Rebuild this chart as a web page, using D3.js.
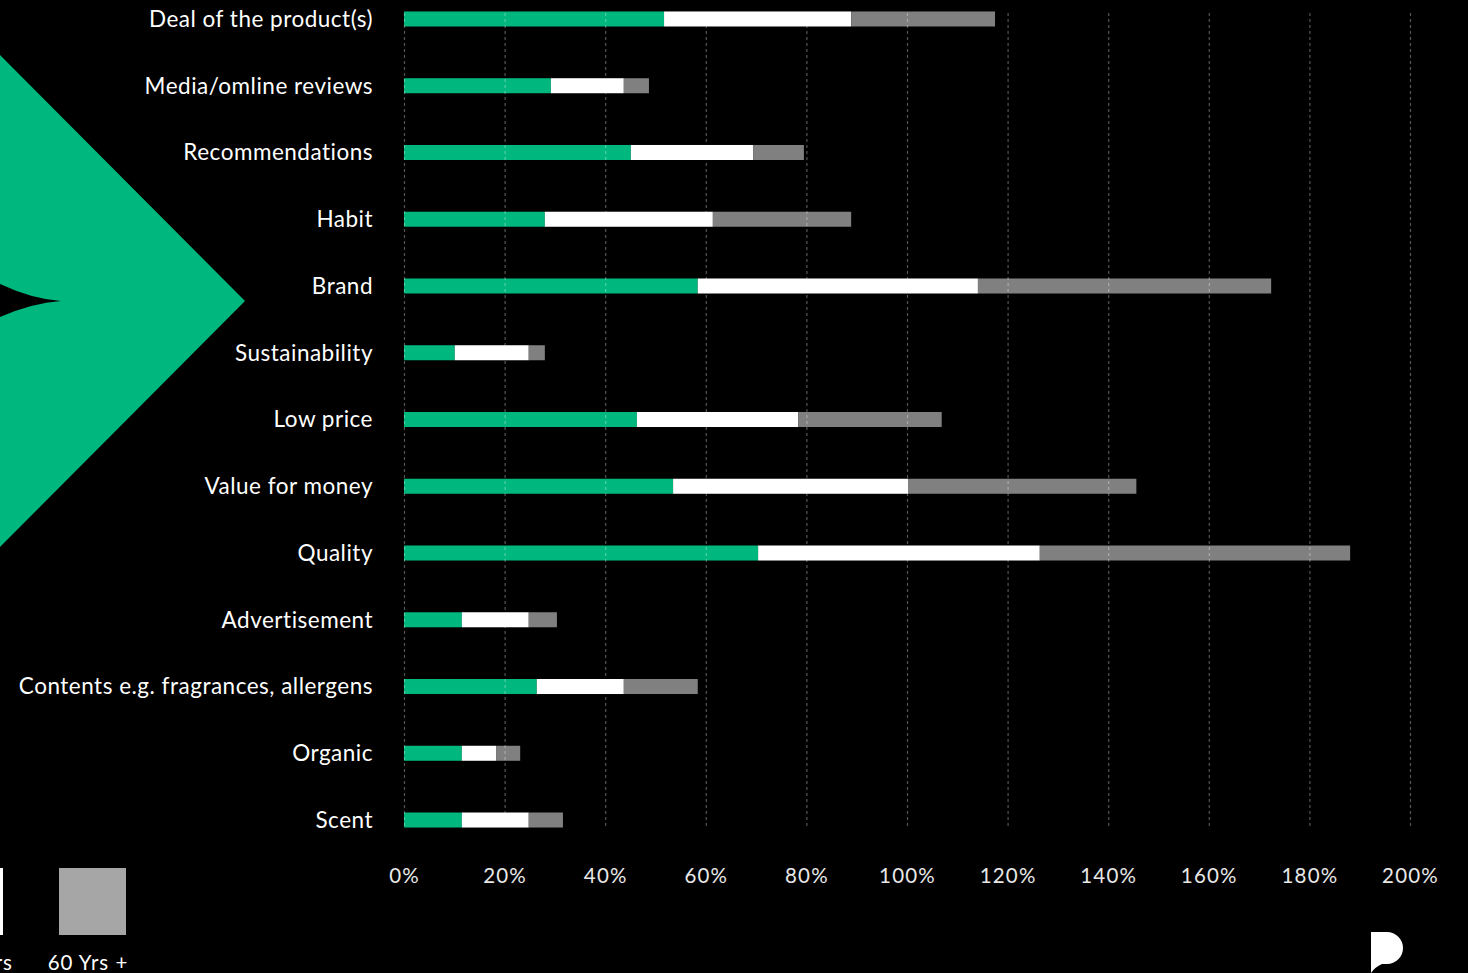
<!DOCTYPE html>
<html>
<head>
<meta charset="utf-8">
<script src="https://cdn.jsdelivr.net/npm/d3@7"></script>
<style>
  html, body { margin: 0; padding: 0; background: #000; overflow: hidden; }
  svg { display: block; }
  text { font-family: Lato, "Noto Sans", sans-serif; }
</style>
</head>
<body>
<svg id="chart" width="1468" height="973"></svg>
<script>
// Purchase drivers, share of respondents (%) per age group, stacked
const categories = [
  "Deal of the product(s)",
  "Media/omline reviews",
  "Recommendations",
  "Habit",
  "Brand",
  "Sustainability",
  "Low price",
  "Value for money",
  "Quality",
  "Advertisement",
  "Contents e.g. fragrances, allergens",
  "Organic",
  "Scent"
];
const seriesNames = ["18-29 Yrs", "30-59 Yrs", "60 Yrs +"];
const young  = [51.7, 29.2, 45.1, 28.0, 58.4, 10.1, 46.3, 53.5, 70.4, 11.5, 26.4, 11.5, 11.5];
const middle = [37.2, 14.5, 24.3, 33.4, 55.7, 14.7, 32.1, 46.7, 56.0, 13.3, 17.3,  6.8, 13.3];
const senior = [28.6,  5.0, 10.1, 27.5, 58.3,  3.2, 28.5, 45.4, 61.7,  5.6, 14.7,  4.8,  6.8];
const tickValues = [0, 20, 40, 60, 80, 100, 120, 140, 160, 180, 200];
const tickLabels = ["0%", "20%", "40%", "60%", "80%", "100%", "120%", "140%", "160%", "180%", "200%"];

const barColors = ["#00b77e", "#ffffff", "#808080"];
const legendColors = ["#00b77e", "#ffffff", "#a6a6a6"];

const svg = d3.select("#chart");
const W = 1468, H = 973;

svg.append("rect").attr("width", W).attr("height", H).attr("fill", "#000");

// Decorative chevron with notch on the left
svg.append("path")
  .attr("d", "M0,55 L245,301 L0,547 L0,317 Q32,303 61,301 Q32,299 0,284 Z")
  .attr("fill", "#00b77e");

// Scales
const x = d3.scaleLinear().domain([0, 200]).range([404, 1410]);
const y = d3.scaleBand().domain(categories)
  .range([-14.4, 853.4])
  .paddingInner(0.775)
  .paddingOuter(0.3875);

// Stack data
const rows = categories.map((c, i) => ({
  cat: c, [seriesNames[0]]: young[i], [seriesNames[1]]: middle[i], [seriesNames[2]]: senior[i]
}));
const stacked = d3.stack().keys(seriesNames)(rows);

const barsG = svg.append("g");
barsG.selectAll("g.series")
  .data(stacked)
  .join("g")
  .attr("class", "series")
  .attr("fill", (d, i) => barColors[i])
  .selectAll("rect")
  .data(d => d)
  .join("rect")
  .attr("x", d => x(d[0]))
  .attr("width", d => x(d[1]) - x(d[0]))
  .attr("y", d => y(d.data.cat))
  .attr("height", y.bandwidth());

// Dashed vertical gridlines over the bars
const gridTop = 12, gridBottom = 826;
const grid = svg.append("g")
  .attr("transform", `translate(0,${gridBottom})`)
  .call(d3.axisBottom(x).tickValues(tickValues).tickSize(-(gridBottom - gridTop)).tickFormat(""));
grid.select(".domain").remove();
grid.selectAll(".tick line")
  .attr("stroke", "#fff")
  .attr("stroke-opacity", 0.33)
  .attr("stroke-width", 1.2)
  .attr("stroke-dasharray", "3,3");

// Category labels
svg.append("g").selectAll("text")
  .data(categories)
  .join("text")
  .attr("x", 373)
  .attr("y", d => y(d) + y.bandwidth() / 2)
  .attr("dy", "0.35em")
  .attr("text-anchor", "end")
  .attr("fill", "#fff")
  .attr("font-size", 22.5)
  .attr("letter-spacing", 0.5)
  .text(d => d);

// X axis labels
const xAxis = svg.append("g")
  .attr("transform", "translate(0,865)")
  .call(d3.axisBottom(x).tickValues(tickValues).tickSize(0)
    .tickFormat((d, i) => tickLabels[i]));
xAxis.select(".domain").remove();
xAxis.selectAll("text")
  .attr("fill", "#e8e8e8")
  .attr("font-size", 20.5)
  .attr("letter-spacing", 1.2)
  .attr("font-family", "Lato, 'Noto Sans', sans-serif");

// Legend (bottom left)
const legendItems = [
  { name: seriesNames[1], color: legendColors[1], sx: -64 },
  { name: seriesNames[2], color: legendColors[2], sx: 59 }
];
const lg = svg.append("g");
lg.selectAll("rect")
  .data(legendItems)
  .join("rect")
  .attr("x", d => d.sx)
  .attr("y", 868)
  .attr("width", 67)
  .attr("height", 67)
  .attr("fill", d => d.color);
lg.selectAll("text")
  .data(legendItems)
  .join("text")
  .attr("x", d => d.sx + 29)
  .attr("y", 970)
  .attr("text-anchor", "middle")
  .attr("fill", "#fff")
  .attr("font-size", 20.5)
  .attr("letter-spacing", 1)
  .text(d => d.name);

// Logo mark bottom right
svg.append("path")
  .attr("d", "M1371,932 H1387 A16,16 0 0 1 1387,964 H1382 Q1375,967 1371,973 Z")
  .attr("fill", "#fff");
</script>
</body>
</html>
